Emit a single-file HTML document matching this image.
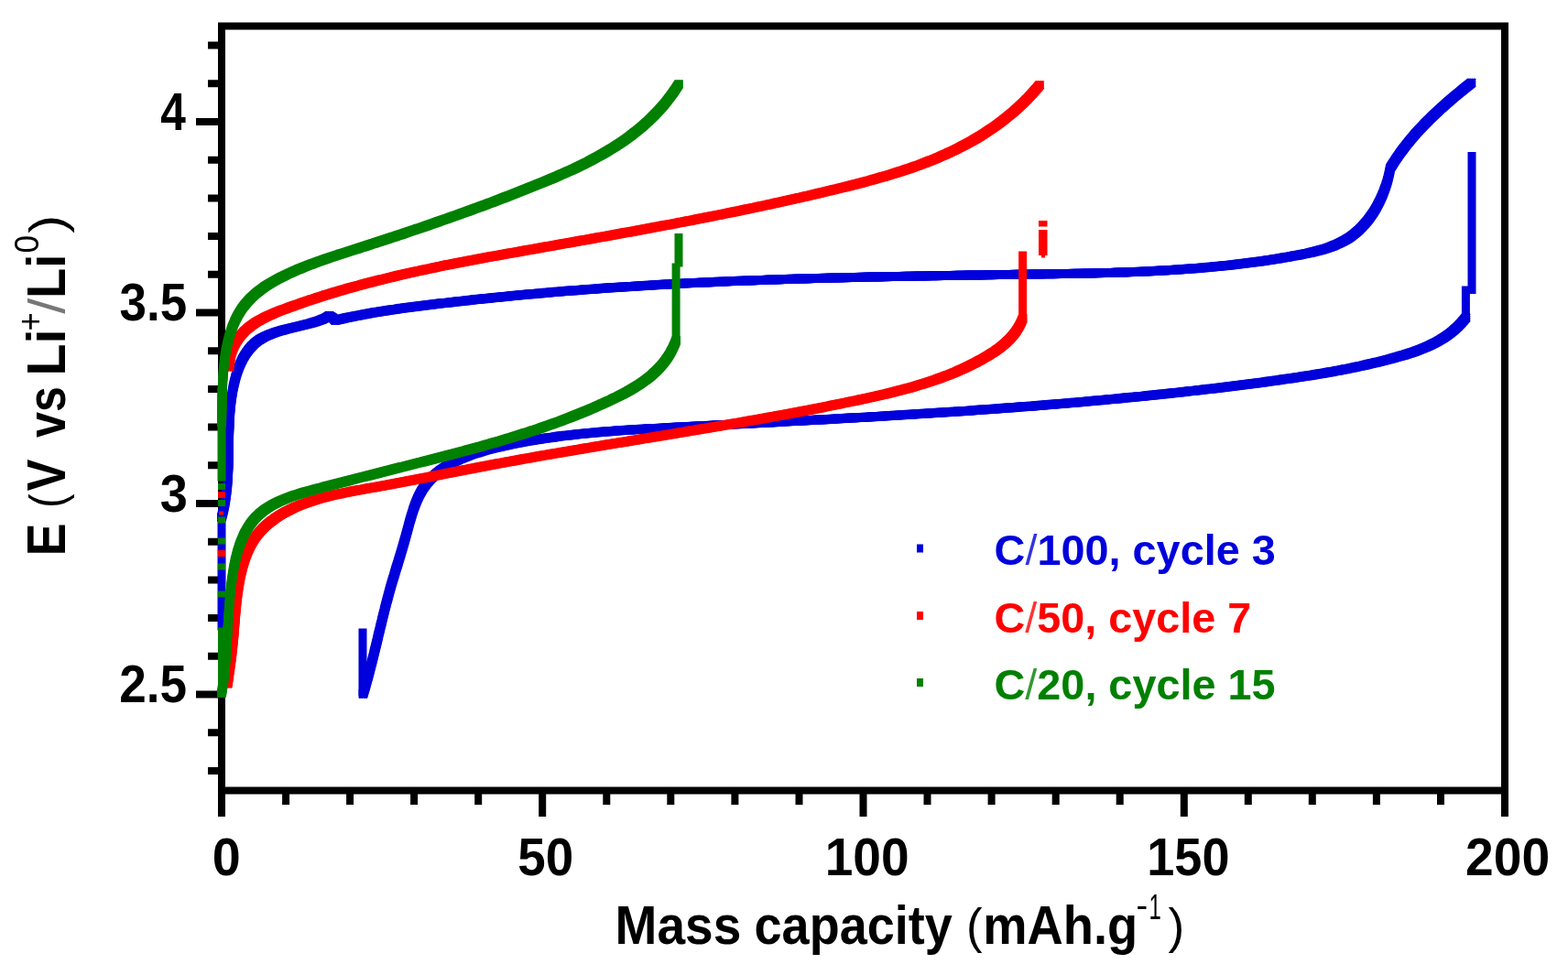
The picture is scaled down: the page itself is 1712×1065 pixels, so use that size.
<!DOCTYPE html><html><head><meta charset="utf-8"><style>html,body{margin:0;padding:0;background:#fff;}svg{display:block;}text{font-family:"Liberation Sans",Arial,Helvetica,sans-serif;font-kerning:none;}</style></head><body>
<svg width="1712" height="1065" viewBox="0 0 1712 1065">
<rect width="1712" height="1065" fill="#fff"/>
<path d="M227 841.9H240M227 800.2H240M214 758.5H240M227 716.8H240M227 675.1H240M227 633.4H240M227 591.7H240M214 550.0H240M227 508.3H240M227 466.6H240M227 424.9H240M227 383.2H240M214 341.5H240M227 299.8H240M227 258.1H240M227 216.4H240M227 174.7H240M214 133.0H240M227 91.3H240M227 49.6H240M242.0 860V892M312.1 860V879M382.1 860V879M452.1 860V879M522.2 860V879M592.2 860V892M662.3 860V879M732.3 860V879M802.4 860V879M872.5 860V879M942.5 860V892M1012.5 860V879M1082.6 860V879M1152.7 860V879M1222.7 860V879M1292.8 860V892M1362.8 860V879M1432.8 860V879M1502.9 860V879M1573.0 860V879M1643.0 860V892" stroke="#000" stroke-width="8" fill="none"/>
<rect x="242" y="28.5" width="1401" height="835" fill="none" stroke="#000" stroke-width="8"/>
<defs>
<path id="cb" d="M242.0 565.0 243.0 561.1 244.0 557.2 244.8 553.3 245.6 549.4 246.2 545.5 246.8 541.5 247.3 537.6 247.8 533.6 248.2 529.6 248.5 525.6 248.8 521.6 249.0 517.6 249.2 513.6 249.4 509.5 249.5 505.5 249.6 501.5 249.7 497.4 249.7 493.4 249.8 489.3 249.9 485.3 249.9 481.2 250.0 477.2 250.1 473.2 250.2 469.1 250.4 465.1 250.5 461.0 250.7 457.0 251.0 453.0 251.3 449.0 251.6 445.0 252.0 441.0 252.5 437.0 253.0 433.0 253.7 429.1 254.3 425.1 255.1 421.2 256.0 417.3 257.0 413.4 258.0 409.5 259.2 405.7 260.6 402.0 262.0 398.3 263.6 394.8 265.4 391.3 267.3 388.0 269.4 384.8 271.6 381.8 274.1 378.9 276.8 376.2 279.6 373.7 282.7 371.4 286.1 369.4 289.6 367.5 293.3 365.8 297.1 364.3 301.1 362.9 305.2 361.6 309.3 360.5 313.5 359.4 317.6 358.4 321.8 357.4 325.9 356.4 330.0 355.4 334.0 354.4 338.0 353.4 341.8 352.3 345.6 351.1 349.2 349.9 352.7 348.5 356.0 347.0 M356.0 347.0 359.5 344.8 363.3 347.0 366.0 350.0 M366.0 350.0 369.9 349.1 373.8 348.2 377.7 347.3 381.5 346.5 385.5 345.7 389.4 344.9 393.3 344.2 397.2 343.4 401.1 342.7 405.0 342.0 409.0 341.3 412.9 340.7 416.9 340.0 420.8 339.4 424.8 338.8 428.7 338.2 432.7 337.7 436.6 337.1 440.6 336.6 444.6 336.0 448.5 335.5 452.5 335.0 456.5 334.5 460.4 334.0 464.4 333.5 468.4 333.0 472.4 332.5 476.3 332.1 480.3 331.6 484.3 331.1 488.3 330.7 492.2 330.2 496.2 329.8 500.2 329.3 504.2 328.9 508.2 328.4 512.1 328.0 516.1 327.6 520.1 327.1 524.1 326.7 528.1 326.3 532.0 325.9 536.0 325.5 540.0 325.1 544.0 324.7 548.0 324.3 552.0 323.9 556.0 323.5 559.9 323.1 563.9 322.7 567.9 322.3 571.9 322.0 575.9 321.6 579.9 321.2 583.9 320.9 587.9 320.5 591.8 320.2 595.8 319.8 599.8 319.5 603.8 319.1 607.8 318.8 611.8 318.5 615.8 318.1 619.8 317.8 623.8 317.5 627.8 317.2 631.8 316.9 635.8 316.6 639.7 316.2 643.7 316.0 647.7 315.7 651.7 315.4 655.7 315.1 659.7 314.8 663.7 314.5 667.7 314.2 671.7 314.0 675.7 313.7 679.7 313.4 683.7 313.2 687.7 312.9 691.7 312.7 695.7 312.4 699.7 312.2 703.7 311.9 707.7 311.7 711.7 311.5 715.7 311.2 719.7 311.0 723.7 310.8 727.7 310.6 731.7 310.4 735.7 310.1 739.7 309.9 743.7 309.7 747.7 309.5 751.7 309.3 755.7 309.1 759.7 308.9 763.7 308.7 767.7 308.5 771.7 308.4 775.7 308.2 779.7 308.0 783.7 307.8 787.7 307.7 791.7 307.5 795.7 307.3 799.7 307.1 803.7 307.0 807.7 306.8 811.7 306.7 815.7 306.5 819.7 306.4 823.7 306.2 827.7 306.1 831.7 305.9 835.7 305.8 839.7 305.6 843.7 305.5 847.7 305.4 851.7 305.2 855.7 305.1 859.7 305.0 863.7 304.8 867.7 304.7 871.7 304.6 875.7 304.5 879.8 304.4 883.8 304.2 887.8 304.1 891.8 304.0 895.8 303.9 899.8 303.8 903.8 303.7 907.8 303.6 911.8 303.5 915.8 303.4 919.8 303.3 923.8 303.2 927.8 303.1 931.8 303.0 935.8 302.9 939.8 302.8 943.8 302.7 947.8 302.6 951.8 302.5 955.9 302.4 959.9 302.4 963.9 302.3 967.9 302.2 971.9 302.1 975.9 302.0 979.9 302.0 983.9 301.9 987.9 301.8 991.9 301.7 995.9 301.7 999.9 301.6 1003.9 301.5 1007.9 301.4 1011.9 301.4 1015.9 301.3 1019.9 301.2 1023.9 301.2 1028.0 301.1 1032.0 301.0 1036.0 301.0 1040.0 300.9 1044.0 300.8 1048.0 300.8 1052.0 300.7 1056.0 300.6 1060.0 300.6 1064.0 300.5 1068.0 300.4 1072.0 300.4 1076.0 300.3 1080.0 300.3 1084.0 300.2 1088.0 300.1 1092.0 300.1 1096.0 300.0 1100.0 300.0 1104.0 299.9 1108.0 299.8 1112.1 299.8 1116.1 299.7 1120.1 299.7 1124.1 299.6 1128.1 299.5 1132.1 299.5 1136.1 299.4 1140.1 299.3 1144.1 299.3 1148.1 299.2 1152.1 299.2 1156.1 299.1 1160.1 299.0 1164.1 299.0 1168.1 298.9 1172.1 298.8 1176.1 298.7 1180.1 298.7 1184.1 298.6 1188.1 298.5 1192.1 298.4 1196.1 298.3 1200.1 298.2 1204.1 298.1 1208.1 298.0 1212.1 297.9 1216.1 297.8 1220.1 297.6 1224.1 297.5 1228.1 297.4 1232.1 297.2 1236.1 297.1 1240.1 296.9 1244.1 296.7 1248.1 296.6 1252.1 296.4 1256.1 296.2 1260.1 296.0 1264.1 295.8 1268.1 295.6 1272.1 295.4 1276.1 295.1 1280.1 294.9 1284.1 294.6 1288.1 294.4 1292.1 294.1 1296.1 293.8 1300.0 293.5 1304.0 293.2 1308.0 292.9 1312.0 292.5 1316.0 292.2 1320.0 291.8 1324.0 291.5 1328.0 291.1 1332.0 290.7 1336.0 290.3 1340.0 289.9 1344.0 289.4 1348.0 289.0 1352.0 288.5 1355.9 288.1 1359.9 287.6 1363.9 287.0 1367.9 286.5 1371.9 286.0 1375.9 285.4 1379.9 284.9 1383.9 284.3 1387.9 283.7 1391.8 283.0 1395.8 282.4 1399.8 281.7 1403.8 281.1 1407.8 280.4 1411.8 279.6 1415.8 278.9 1419.7 278.2 1423.7 277.4 1427.7 276.6 1431.6 275.7 1435.5 274.8 1439.4 273.8 1443.3 272.7 1447.1 271.6 1450.8 270.3 1454.5 269.0 1458.1 267.5 1461.7 265.9 1465.2 264.2 1468.6 262.4 1471.9 260.4 1475.1 258.2 1478.2 255.9 1481.2 253.4 1484.1 250.8 1486.9 248.0 1489.6 245.1 1492.2 242.1 1494.6 239.0 1497.0 235.7 1499.3 232.4 1501.4 228.9 1503.4 225.4 1505.3 221.8 1507.1 218.1 1508.8 214.4 1510.4 210.6 1511.8 206.8 1513.2 202.9 1514.4 199.1 1515.5 195.2 1516.4 191.3 1517.3 187.4 1518.0 183.5 M1518.0 183.5 1520.1 180.1 1522.3 176.7 1524.5 173.3 1526.8 170.0 1529.1 166.7 1531.5 163.5 1533.9 160.3 1536.4 157.1 1539.0 154.0 1541.5 150.9 1544.2 147.8 1546.8 144.8 1549.6 141.8 1552.3 138.9 1555.1 135.9 1557.9 133.1 1560.8 130.2 1563.7 127.4 1566.6 124.6 1569.6 121.8 1572.6 119.0 1575.6 116.3 1578.6 113.6 1581.6 111.0 1584.7 108.3 1587.8 105.7 1590.9 103.1 1594.0 100.6 1597.1 98.0 1600.2 95.5 1603.4 93.0 1606.5 90.5 M1600.4 347.0 1597.7 350.2 1595.0 353.3 1592.1 356.3 1589.2 359.0 1586.2 361.6 1583.1 364.1 1579.9 366.5 1576.6 368.7 1573.3 370.8 1569.9 372.8 1566.4 374.7 1562.9 376.4 1559.3 378.1 1555.7 379.7 1552.0 381.2 1548.3 382.6 1544.6 384.0 1540.8 385.3 1537.0 386.5 1533.2 387.7 1529.3 388.8 1525.5 389.9 1521.6 391.0 1517.7 392.1 1513.9 393.1 1510.0 394.1 1506.1 395.1 1502.2 396.0 1498.3 396.9 1494.4 397.8 1490.5 398.7 1486.6 399.6 1482.7 400.4 1478.8 401.3 1474.8 402.1 1470.9 402.9 1467.0 403.6 1463.1 404.4 1459.1 405.1 1455.2 405.9 1451.2 406.6 1447.3 407.3 1443.3 407.9 1439.4 408.6 1435.4 409.3 1431.5 409.9 1427.5 410.5 1423.6 411.1 1419.6 411.8 1415.6 412.3 1411.7 412.9 1407.7 413.5 1403.7 414.1 1399.8 414.6 1395.8 415.2 1391.8 415.7 1387.9 416.3 1383.9 416.8 1379.9 417.4 1375.9 417.9 1372.0 418.4 1368.0 418.9 1364.0 419.4 1360.0 420.0 1356.1 420.5 1352.1 421.0 1348.1 421.5 1344.1 422.0 1340.2 422.4 1336.2 422.9 1332.2 423.4 1328.2 423.9 1324.2 424.4 1320.3 424.8 1316.3 425.3 1312.3 425.8 1308.3 426.2 1304.3 426.7 1300.3 427.1 1296.4 427.6 1292.4 428.0 1288.4 428.5 1284.4 428.9 1280.4 429.3 1276.4 429.7 1272.5 430.2 1268.5 430.6 1264.5 431.0 1260.5 431.4 1256.5 431.8 1252.5 432.2 1248.5 432.7 1244.5 433.1 1240.6 433.5 1236.6 433.8 1232.6 434.2 1228.6 434.6 1224.6 435.0 1220.6 435.4 1216.6 435.8 1212.6 436.1 1208.6 436.5 1204.6 436.9 1200.7 437.3 1196.7 437.6 1192.7 438.0 1188.7 438.3 1184.7 438.7 1180.7 439.0 1176.7 439.4 1172.7 439.7 1168.7 440.1 1164.7 440.4 1160.7 440.8 1156.7 441.1 1152.7 441.4 1148.7 441.7 1144.7 442.1 1140.7 442.4 1136.7 442.7 1132.8 443.0 1128.8 443.4 1124.8 443.7 1120.8 444.0 1116.8 444.3 1112.8 444.6 1108.8 444.9 1104.8 445.2 1100.8 445.5 1096.8 445.8 1092.8 446.1 1088.8 446.4 1084.8 446.7 1080.8 447.0 1076.8 447.3 1072.8 447.5 1068.8 447.8 1064.8 448.1 1060.8 448.4 1056.8 448.7 1052.8 448.9 1048.8 449.2 1044.8 449.5 1040.8 449.7 1036.8 450.0 1032.8 450.3 1028.8 450.5 1024.8 450.8 1020.8 451.1 1016.8 451.3 1012.8 451.6 1008.8 451.8 1004.8 452.1 1000.8 452.3 996.8 452.6 992.8 452.8 988.8 453.1 984.8 453.3 980.8 453.6 976.8 453.8 972.8 454.0 968.8 454.3 964.8 454.5 960.8 454.8 956.7 455.0 952.7 455.2 948.7 455.5 944.7 455.7 940.7 455.9 936.7 456.1 932.7 456.4 928.7 456.6 924.7 456.8 920.7 457.1 916.7 457.3 912.7 457.5 908.7 457.7 904.7 457.9 900.7 458.2 896.7 458.4 892.7 458.6 888.7 458.8 884.7 459.0 880.7 459.3 876.7 459.5 872.7 459.7 868.7 459.9 864.7 460.1 860.7 460.3 856.7 460.5 852.7 460.8 848.7 461.0 844.7 461.2 840.7 461.4 836.7 461.6 832.7 461.8 828.7 462.0 824.7 462.2 820.7 462.4 816.7 462.7 812.7 462.9 808.7 463.1 804.7 463.3 800.7 463.5 796.7 463.7 792.7 463.9 788.7 464.1 784.7 464.3 780.7 464.5 776.7 464.7 772.7 465.0 768.7 465.2 764.7 465.4 760.7 465.6 756.7 465.8 752.7 466.0 748.7 466.2 744.7 466.4 740.7 466.6 736.7 466.8 732.7 467.1 728.7 467.3 724.7 467.5 720.7 467.7 716.7 467.9 712.7 468.1 708.7 468.3 704.7 468.6 700.7 468.8 696.7 469.0 692.8 469.3 688.8 469.5 684.8 469.8 680.8 470.1 676.8 470.3 672.8 470.6 668.8 470.9 664.8 471.2 660.8 471.5 656.8 471.8 652.9 472.2 648.9 472.5 644.9 472.9 640.9 473.3 636.9 473.7 632.9 474.1 628.9 474.5 625.0 474.9 621.0 475.4 617.0 475.8 613.0 476.3 609.0 476.8 605.1 477.4 601.1 477.9 597.1 478.5 593.2 479.1 589.2 479.7 585.2 480.3 581.2 481.0 577.3 481.6 573.3 482.3 569.3 483.1 565.4 483.8 561.4 484.6 557.5 485.4 553.5 486.2 549.5 487.1 545.6 488.0 541.6 488.9 537.7 489.9 533.7 490.9 529.8 491.9 525.9 493.0 522.1 494.2 518.2 495.4 514.4 496.7 510.7 498.0 506.9 499.5 503.3 501.0 499.7 502.7 496.1 504.4 492.7 506.2 489.2 508.2 485.9 510.3 482.7 512.4 479.5 514.8 476.5 517.2 473.6 519.8 470.8 522.5 468.1 525.4 465.6 528.3 463.3 531.5 461.2 534.7 459.3 538.1 457.4 541.6 455.8 545.2 454.2 548.9 452.8 552.6 451.4 556.5 450.2 560.4 449.0 564.3 447.8 568.2 446.7 572.2 445.7 576.2 444.6 580.2 443.5 584.1 442.4 588.1 441.3 592.0 440.2 595.9 439.1 599.7 437.9 603.6 436.8 607.4 435.6 611.2 434.5 615.0 433.3 618.8 432.1 622.5 431.0 626.3 429.9 630.1 428.7 633.9 427.6 637.7 426.5 641.5 425.4 645.3 424.4 649.2 423.4 653.0 422.3 656.9 421.3 660.8 420.3 664.6 419.4 668.5 418.4 672.4 417.4 676.3 416.5 680.3 415.5 684.2 414.6 688.1 413.6 692.0 412.7 695.9 411.8 699.9 410.8 703.8 409.9 707.7 408.9 711.6 408.0 715.5 407.0 719.4 406.0 723.3 405.0 727.2 404.0 731.1 403.0 735.0 402.0 738.9 400.9 742.7 399.8 746.6 398.8 750.4 397.6 754.2 396.5 758.0"/>
<path id="cr" d="M250.5 401.0 250.8 396.3 251.4 391.9 252.2 387.7 253.3 383.8 254.7 380.0 256.3 376.5 258.1 373.1 260.1 370.0 262.3 367.0 264.8 364.2 267.3 361.5 270.1 359.0 273.0 356.7 276.1 354.4 279.2 352.3 282.5 350.3 285.9 348.5 289.4 346.7 293.0 344.9 296.6 343.3 300.3 341.7 304.1 340.2 307.9 338.7 311.7 337.3 315.5 335.9 319.3 334.5 323.2 333.1 327.0 331.8 330.8 330.4 334.7 329.1 338.5 327.8 342.4 326.6 346.2 325.3 350.0 324.1 353.9 322.8 357.8 321.6 361.6 320.5 365.5 319.3 369.3 318.1 373.2 317.0 377.1 315.9 380.9 314.8 384.8 313.7 388.7 312.6 392.6 311.6 396.5 310.5 400.3 309.5 404.2 308.5 408.1 307.5 412.0 306.5 415.9 305.5 419.8 304.6 423.7 303.6 427.6 302.7 431.5 301.7 435.4 300.8 439.3 299.9 443.2 299.0 447.1 298.1 451.0 297.3 454.9 296.4 458.8 295.6 462.7 294.7 466.7 293.9 470.6 293.1 474.5 292.2 478.4 291.4 482.3 290.6 486.2 289.8 490.2 289.1 494.1 288.3 498.0 287.5 501.9 286.8 505.9 286.0 509.8 285.2 513.7 284.5 517.7 283.8 521.6 283.0 525.5 282.3 529.4 281.6 533.4 280.8 537.3 280.1 541.2 279.4 545.2 278.7 549.1 278.0 553.1 277.3 557.0 276.6 560.9 275.9 564.9 275.2 568.8 274.5 572.7 273.8 576.7 273.1 580.6 272.4 584.5 271.7 588.5 271.0 592.4 270.3 596.4 269.6 600.3 268.9 604.2 268.2 608.2 267.5 612.1 266.8 616.0 266.1 620.0 265.4 623.9 264.7 627.9 264.0 631.8 263.3 635.7 262.6 639.7 261.9 643.6 261.2 647.5 260.5 651.5 259.8 655.4 259.1 659.4 258.4 663.3 257.7 667.2 257.0 671.2 256.3 675.1 255.5 679.0 254.8 683.0 254.1 686.9 253.4 690.9 252.7 694.8 252.0 698.7 251.2 702.7 250.5 706.6 249.8 710.5 249.0 714.5 248.3 718.4 247.6 722.3 246.8 726.3 246.1 730.2 245.4 734.2 244.6 738.1 243.9 742.0 243.1 746.0 242.4 749.9 241.6 753.8 240.9 757.8 240.1 761.7 239.3 765.6 238.6 769.6 237.8 773.5 237.0 777.4 236.2 781.4 235.4 785.3 234.7 789.2 233.9 793.1 233.1 797.1 232.3 801.0 231.5 804.9 230.7 808.9 229.9 812.8 229.0 816.7 228.2 820.7 227.4 824.6 226.6 828.5 225.7 832.4 224.9 836.4 224.1 840.3 223.2 844.2 222.4 848.1 221.5 852.1 220.6 856.0 219.8 859.9 218.9 863.8 218.0 867.8 217.1 871.7 216.2 875.6 215.4 879.5 214.5 883.4 213.6 887.4 212.6 891.3 211.7 895.2 210.8 899.1 209.9 903.0 208.9 907.0 208.0 910.9 207.0 914.8 206.1 918.7 205.1 922.6 204.2 926.5 203.2 930.4 202.2 934.3 201.2 938.3 200.2 942.1 199.2 946.0 198.1 949.9 197.1 953.8 196.0 957.7 194.9 961.5 193.8 965.4 192.7 969.2 191.6 973.1 190.4 976.9 189.2 980.7 188.0 984.5 186.8 988.3 185.5 992.1 184.3 995.9 183.0 999.6 181.6 1003.4 180.3 1007.1 178.9 1010.8 177.5 1014.5 176.0 1018.2 174.6 1021.9 173.1 1025.5 171.5 1029.1 169.9 1032.7 168.3 1036.3 166.7 1039.9 165.0 1043.4 163.3 1047.0 161.5 1050.5 159.7 1054.0 157.9 1057.4 156.0 1060.9 154.1 1064.3 152.1 1067.7 150.1 1071.1 148.1 1074.4 146.0 1077.7 143.8 1081.0 141.6 1084.3 139.4 1087.5 137.1 1090.7 134.8 1093.9 132.4 1097.0 129.9 1100.1 127.4 1103.2 124.9 1106.3 122.3 1109.3 119.6 1112.3 116.9 1115.3 114.1 1118.2 111.3 1121.1 108.4 1123.9 105.4 1126.8 102.4 1129.5 99.3 1132.3 96.2 1135.0 93.0 M1116.6 348.0 1115.0 351.9 1113.2 355.5 1111.2 359.0 1109.0 362.3 1106.6 365.5 1104.0 368.5 1101.3 371.4 1098.4 374.1 1095.5 376.7 1092.4 379.2 1089.2 381.6 1085.9 383.9 1082.5 386.1 1079.1 388.2 1075.6 390.3 1072.2 392.3 1068.6 394.2 1065.1 396.1 1061.5 397.9 1058.0 399.7 1054.4 401.4 1050.7 403.1 1047.1 404.7 1043.5 406.3 1039.8 407.8 1036.1 409.3 1032.4 410.7 1028.7 412.1 1024.9 413.5 1021.2 414.8 1017.4 416.1 1013.6 417.4 1009.9 418.6 1006.1 419.8 1002.2 420.9 998.4 422.1 994.6 423.2 990.7 424.2 986.9 425.3 983.0 426.3 979.1 427.3 975.3 428.3 971.4 429.2 967.5 430.2 963.6 431.1 959.7 432.0 955.8 432.9 951.9 433.8 947.9 434.6 944.0 435.5 940.1 436.3 936.2 437.2 932.2 438.0 928.3 438.8 924.4 439.6 920.4 440.4 916.5 441.2 912.6 442.0 908.6 442.8 904.7 443.6 900.8 444.4 896.8 445.2 892.9 445.9 888.9 446.7 885.0 447.5 881.1 448.2 877.1 449.0 873.2 449.7 869.2 450.5 865.3 451.2 861.3 452.0 857.4 452.7 853.4 453.4 849.5 454.1 845.5 454.9 841.6 455.6 837.6 456.3 833.7 457.0 829.7 457.7 825.8 458.4 821.8 459.1 817.9 459.8 813.9 460.5 809.9 461.2 806.0 461.9 802.0 462.6 798.1 463.3 794.1 463.9 790.2 464.6 786.2 465.3 782.2 466.0 778.3 466.6 774.3 467.3 770.4 468.0 766.4 468.6 762.5 469.3 758.5 470.0 754.5 470.6 750.6 471.3 746.6 471.9 742.7 472.6 738.7 473.3 734.8 473.9 730.8 474.6 726.8 475.2 722.9 475.9 718.9 476.5 715.0 477.2 711.0 477.8 707.1 478.5 703.1 479.1 699.2 479.8 695.2 480.4 691.2 481.1 687.3 481.7 683.3 482.4 679.4 483.0 675.4 483.7 671.5 484.3 667.5 485.0 663.6 485.6 659.6 486.3 655.7 486.9 651.7 487.6 647.8 488.3 643.9 488.9 639.9 489.6 636.0 490.2 632.0 490.9 628.1 491.6 624.1 492.2 620.2 492.9 616.3 493.6 612.3 494.2 608.4 494.9 604.5 495.6 600.5 496.3 596.6 497.0 592.7 497.6 588.7 498.3 584.8 499.0 580.9 499.7 576.9 500.4 573.0 501.1 569.1 501.8 565.2 502.5 561.3 503.2 557.3 503.9 553.4 504.6 549.5 505.4 545.6 506.1 541.7 506.8 537.8 507.5 533.9 508.3 530.0 509.0 526.0 509.8 522.1 510.5 518.2 511.3 514.3 512.0 510.4 512.8 506.5 513.5 502.6 514.3 498.7 515.0 494.8 515.8 490.9 516.6 487.0 517.3 483.1 518.1 479.2 518.9 475.3 519.6 471.3 520.4 467.4 521.2 463.5 521.9 459.6 522.7 455.6 523.5 451.7 524.2 447.7 525.0 443.8 525.7 439.8 526.5 435.9 527.2 431.9 528.0 427.9 528.7 423.9 529.5 419.9 530.2 415.9 530.9 411.9 531.7 407.9 532.4 403.9 533.1 399.9 533.8 395.8 534.6 391.8 535.3 387.8 536.0 383.7 536.8 379.7 537.6 375.7 538.4 371.7 539.2 367.7 540.0 363.8 540.9 359.8 541.9 355.9 542.8 352.0 543.9 348.1 544.9 344.3 546.1 340.5 547.3 336.7 548.5 333.0 549.8 329.3 551.2 325.6 552.7 322.0 554.2 318.5 555.9 315.0 557.6 311.5 559.4 308.1 561.3 304.8 563.3 301.5 565.4 298.4 567.7 295.3 570.0 292.3 572.4 289.4 575.0 286.6 577.7 284.0 580.5 281.5 583.4 279.2 586.5 277.1 589.7 275.1 593.0 273.3 596.4 271.6 600.0 270.1 603.6 268.6 607.3 267.4 611.0 266.2 614.8 265.1 618.7 264.1 622.6 263.2 626.5 262.3 630.5 261.6 634.5 260.9 638.5 260.3 642.5 259.7 646.6 259.2 650.7 258.7 654.8 258.3 658.9 257.9 663.0 257.5 667.1 257.1 671.2 256.8 675.3 256.5 679.4 256.1 683.5 255.8 687.6 255.5 691.6 255.1 695.7 254.7 699.7 254.3 703.7 253.9 707.7 253.4 711.6 253.0 715.6 252.5 719.5 252.0 723.4 251.4 727.3 250.9 731.2 250.3 735.1 249.8 739.0 249.2 742.9 248.7 746.8"/>
<path id="cg" d="M242.0 462.0 242.1 458.3 242.1 454.5 242.2 450.6 242.3 446.7 242.3 442.7 242.4 438.7 242.5 434.7 242.6 430.6 242.7 426.5 242.9 422.4 243.1 418.2 243.3 414.1 243.6 409.9 243.9 405.8 244.3 401.6 244.7 397.5 245.2 393.3 245.8 389.2 246.4 385.1 247.2 381.1 248.0 377.1 248.9 373.1 249.9 369.2 251.0 365.4 252.2 361.6 253.5 357.9 255.0 354.2 256.5 350.7 258.2 347.2 260.0 343.8 262.0 340.5 264.0 337.3 266.3 334.2 268.7 331.2 271.2 328.4 273.9 325.6 276.7 323.0 279.6 320.4 282.6 318.0 285.8 315.6 289.0 313.3 292.4 311.1 295.8 309.0 299.3 307.0 302.8 305.0 306.4 303.1 310.1 301.3 313.7 299.5 317.5 297.8 321.2 296.2 324.9 294.5 328.7 293.0 332.5 291.4 336.3 289.9 340.1 288.5 343.9 287.1 347.7 285.7 351.5 284.3 355.3 283.0 359.2 281.7 363.0 280.4 366.9 279.1 370.7 277.8 374.6 276.6 378.4 275.4 382.2 274.1 386.1 272.9 389.9 271.7 393.8 270.4 397.6 269.2 401.4 268.0 405.3 266.7 409.1 265.5 412.9 264.2 416.7 263.0 420.5 261.8 424.4 260.5 428.2 259.2 432.0 258.0 435.8 256.7 439.6 255.5 443.4 254.2 447.2 252.9 450.9 251.6 454.7 250.3 458.5 249.1 462.3 247.8 466.1 246.5 469.9 245.2 473.6 243.9 477.4 242.5 481.2 241.2 484.9 239.9 488.7 238.6 492.5 237.2 496.2 235.9 500.0 234.6 503.8 233.2 507.5 231.8 511.3 230.5 515.0 229.1 518.8 227.7 522.6 226.3 526.3 225.0 530.1 223.6 533.8 222.2 537.6 220.8 541.3 219.3 545.1 217.9 548.8 216.5 552.6 215.0 556.3 213.6 560.1 212.1 563.8 210.7 567.6 209.2 571.3 207.7 575.1 206.2 578.8 204.7 582.6 203.2 586.3 201.7 590.1 200.2 593.8 198.7 597.5 197.1 601.3 195.5 605.0 194.0 608.7 192.4 612.4 190.7 616.1 189.1 619.8 187.4 623.5 185.8 627.2 184.1 630.8 182.3 634.4 180.6 638.1 178.8 641.7 177.0 645.2 175.1 648.8 173.2 652.3 171.3 655.8 169.4 659.3 167.4 662.7 165.4 666.1 163.3 669.5 161.2 672.9 159.1 676.2 156.9 679.5 154.7 682.8 152.4 686.0 150.1 689.2 147.7 692.3 145.3 695.4 142.9 698.5 140.3 701.5 137.8 704.5 135.2 707.5 132.5 710.3 129.7 713.2 126.9 716.0 124.1 718.7 121.2 721.4 118.2 724.1 115.2 726.7 112.1 729.2 108.9 731.7 105.7 734.1 102.3 736.5 99.0 738.8 95.5 741.0 92.0 M738.1 372.0 736.6 375.9 734.9 379.7 733.1 383.3 731.2 386.8 729.1 390.1 726.8 393.3 724.5 396.4 722.0 399.4 719.4 402.3 716.6 405.1 713.8 407.7 710.9 410.3 707.9 412.8 704.8 415.1 701.6 417.4 698.3 419.7 695.0 421.8 691.6 423.9 688.2 425.9 684.7 427.9 681.1 429.8 677.5 431.6 673.9 433.5 670.3 435.2 666.7 437.0 663.0 438.7 659.3 440.4 655.6 442.0 651.9 443.7 648.2 445.3 644.5 446.9 640.8 448.5 637.1 450.0 633.4 451.5 629.6 453.0 625.9 454.5 622.2 456.0 618.4 457.4 614.6 458.8 610.9 460.3 607.1 461.6 603.3 463.0 599.5 464.3 595.7 465.7 592.0 467.0 588.2 468.3 584.4 469.6 580.5 470.8 576.7 472.1 572.9 473.3 569.1 474.5 565.3 475.7 561.4 476.9 557.6 478.1 553.8 479.3 549.9 480.4 546.1 481.6 542.3 482.7 538.4 483.8 534.6 484.9 530.7 486.0 526.9 487.1 523.0 488.2 519.2 489.2 515.3 490.3 511.4 491.3 507.6 492.4 503.7 493.4 499.9 494.4 496.0 495.5 492.1 496.5 488.3 497.5 484.4 498.5 480.6 499.5 476.7 500.5 472.9 501.5 469.0 502.5 465.1 503.5 461.3 504.5 457.4 505.4 453.6 506.4 449.7 507.4 445.9 508.4 442.0 509.4 438.1 510.3 434.3 511.3 430.4 512.3 426.6 513.3 422.7 514.2 418.8 515.2 414.9 516.2 411.1 517.2 407.2 518.2 403.3 519.2 399.4 520.2 395.5 521.1 391.6 522.1 387.7 523.1 383.8 524.1 379.8 525.2 375.9 526.2 372.0 527.2 368.0 528.2 364.0 529.2 360.1 530.3 356.1 531.3 352.1 532.4 348.1 533.4 344.1 534.5 340.1 535.6 336.1 536.7 332.1 537.8 328.2 539.0 324.3 540.3 320.4 541.5 316.6 542.9 312.8 544.3 309.2 545.8 305.6 547.4 302.0 549.1 298.6 550.8 295.3 552.7 292.1 554.7 289.0 556.8 286.0 559.1 283.2 561.5 280.5 564.0 278.0 566.6 275.6 569.5 273.4 572.4 271.3 575.5 269.4 578.7 267.5 582.0 265.8 585.5 264.3 589.0 262.8 592.6 261.4 596.3 260.2 600.1 259.0 604.0 258.0 607.9 257.0 611.9 256.1 616.0 255.3 620.0 254.6 624.1 253.9 628.3 253.3 632.4 252.7 636.6 252.2 640.8 251.8 645.0 251.3 649.1 251.0 653.3 250.6 657.4 250.3 661.5 250.0 665.6 249.7 669.6 249.4 673.7 249.2 677.7 248.9 681.8 248.7 685.8 248.5 689.8 248.3 693.8 248.0 697.8 247.8 701.7 247.6 705.7 247.3 709.7 247.0 713.6 246.7 717.6 246.4 721.5 246.1 725.5 245.7 729.4 245.3 733.3 244.9 737.3 244.4 741.2 243.9 745.2 243.3 749.1 242.7 753.0 242.0 757.0"/>
</defs>
<g fill="none" stroke="#0000dc" stroke-width="3.0" stroke-linejoin="round" stroke-linecap="round">
<use href="#cb" x="-3.50" y="-3.50"/>
<use href="#cb" x="-3.50" y="-1.17"/>
<use href="#cb" x="-3.50" y="1.17"/>
<use href="#cb" x="-3.50" y="3.50"/>
<use href="#cb" x="-1.17" y="-3.50"/>
<use href="#cb" x="-1.17" y="3.50"/>
<use href="#cb" x="1.17" y="-3.50"/>
<use href="#cb" x="1.17" y="3.50"/>
<use href="#cb" x="3.50" y="-3.50"/>
<use href="#cb" x="3.50" y="-1.17"/>
<use href="#cb" x="3.50" y="1.17"/>
<use href="#cb" x="3.50" y="3.50"/>
</g>
<path d="M237.5 560.5h9.0V688.5h-9.0zM1602.5 166.0h9.0V321.0h-9.0zM1595.9 312.5h9.0V351.5h-9.0zM391.5 686.5h9.0V760.5h-9.0z" fill="#0000dc"/>
<g fill="none" stroke="#ff0000" stroke-width="3.0" stroke-linejoin="round" stroke-linecap="round">
<use href="#cr" x="-3.50" y="-3.50"/>
<use href="#cr" x="-3.50" y="-1.17"/>
<use href="#cr" x="-3.50" y="1.17"/>
<use href="#cr" x="-3.50" y="3.50"/>
<use href="#cr" x="-1.17" y="-3.50"/>
<use href="#cr" x="-1.17" y="3.50"/>
<use href="#cr" x="1.17" y="-3.50"/>
<use href="#cr" x="1.17" y="3.50"/>
<use href="#cr" x="3.50" y="-3.50"/>
<use href="#cr" x="3.50" y="-1.17"/>
<use href="#cr" x="3.50" y="1.17"/>
<use href="#cr" x="3.50" y="3.50"/>
</g>
<path d="M1112.1 274.5h9.0V352.5h-9.0z" fill="#ff0000"/>
<path d="M1134 241h9.5v6.5h-9.5zM1134 251h9.5v28h-9.5zM1137 279h4v2.5h-4z" fill="#ff0000"/>
<path d="M238 537.0h8v7h-8zM238 601.0h8v7h-8zM239 558.5h5v4h-5z" fill="#ff0000"/>
<g fill="none" stroke="#008000" stroke-width="3.0" stroke-linejoin="round" stroke-linecap="round">
<use href="#cg" x="-3.50" y="-3.50"/>
<use href="#cg" x="-3.50" y="-1.17"/>
<use href="#cg" x="-3.50" y="1.17"/>
<use href="#cg" x="-3.50" y="3.50"/>
<use href="#cg" x="-1.17" y="-3.50"/>
<use href="#cg" x="-1.17" y="3.50"/>
<use href="#cg" x="1.17" y="-3.50"/>
<use href="#cg" x="1.17" y="3.50"/>
<use href="#cg" x="3.50" y="-3.50"/>
<use href="#cg" x="3.50" y="-1.17"/>
<use href="#cg" x="3.50" y="1.17"/>
<use href="#cg" x="3.50" y="3.50"/>
</g>
<path d="M238.0 685.5h9.0V761.5h-9.0zM237.5 457.5h9.0V525.5h-9.0zM736.5 255.0h9.0V291.5h-9.0zM733.6 287.5h9.0V376.5h-9.0z" fill="#008000"/>
<path d="M238 528.0h8v7h-8zM238 546.0h8v7h-8zM238 564.5h8v7h-8zM238 587.5h8v7h-8zM238 615.5h8v7h-8zM238 645.5h8v7h-8z" fill="#008000"/>
<text transform="translate(130.16 766.80) scale(0.9399 1)" font-size="56.50" font-weight="bold">2.5</text>
<text transform="translate(174.76 559.40) scale(0.9578 1)" font-size="56.50" font-weight="bold">3</text>
<text transform="translate(130.59 349.50) scale(0.9369 1)" font-size="56.50" font-weight="bold">3.5</text>
<text transform="translate(175.35 142.00) scale(0.8789 1)" font-size="56.50" font-weight="bold">4</text>
<text transform="translate(231.80 956.00) scale(0.9862 1)" font-size="56.50" font-weight="bold">0</text>
<text transform="translate(565.31 956.00) scale(0.9696 1)" font-size="56.50" font-weight="bold">50</text>
<text transform="translate(900.63 956.00) scale(0.9752 1)" font-size="56.50" font-weight="bold">100</text>
<text transform="translate(1252.29 956.00) scale(0.9571 1)" font-size="56.50" font-weight="bold">150</text>
<text transform="translate(1600.08 956.00) scale(0.9779 1)" font-size="56.50" font-weight="bold">200</text>
<text transform="translate(671.62 1031.10) scale(0.9429 1)" font-size="58.40" font-weight="bold">Mass</text>
<text transform="translate(823.59 1031.10) scale(0.9249 1)" font-size="58.40" font-weight="bold">capacity</text>
<text transform="translate(1054.93 1030.00) scale(0.9778 1)" font-size="54.00" font-weight="normal">(</text>
<text transform="translate(1073.32 1031.10) scale(0.9298 1)" font-size="58.40" font-weight="bold">mAh.g</text>
<text transform="translate(1240.61 1002.20) scale(1.0024 1)" font-size="38.00" font-weight="normal">-</text>
<text transform="translate(1254.48 1003.60) scale(0.6287 1)" font-size="38.00" font-weight="normal">1</text>
<text transform="translate(1275.59 1030.00) scale(0.9848 1)" font-size="54.00" font-weight="normal">)</text>
<text transform="translate(70.50 607.19) rotate(-90) scale(0.9187 1)" font-size="58.40" font-weight="bold">E</text>
<text transform="translate(69.50 554.75) rotate(-90) scale(0.8521 1)" font-size="54.00" font-weight="normal">(</text>
<text transform="translate(70.50 536.25) rotate(-90) scale(0.8859 1)" font-size="58.40" font-weight="bold">V</text>
<text transform="translate(70.50 477.90) rotate(-90) scale(0.8599 1)" font-size="58.40" font-weight="bold">vs</text>
<text transform="translate(70.50 410.55) rotate(-90) scale(0.9850 1)" font-size="58.40" font-weight="bold">Li</text>
<text transform="translate(46.40 361.40) rotate(-90) scale(0.8762 1)" font-size="39.70" font-weight="normal">+</text>
<text transform="translate(70.00 342.80) rotate(-90) scale(1.1060 1)" font-size="55.00" font-weight="normal" fill="#777">/</text>
<text transform="translate(70.50 325.70) rotate(-90) scale(0.9212 1)" font-size="58.40" font-weight="bold">Li</text>
<text transform="translate(41.90 276.48) rotate(-90) scale(0.9529 1)" font-size="37.10" font-weight="normal">0</text>
<text transform="translate(69.50 254.75) rotate(-90) scale(1.1105 1)" font-size="54.00" font-weight="normal">)</text>
<rect x="1001" y="594.5" width="7" height="9" fill="#0000dc"/>
<text transform="translate(1085.58 616.60) scale(0.9967 1)" font-size="47.00" font-weight="bold" fill="#0000dc">C<tspan font-weight="normal" fill-opacity="0.8">/</tspan>100, cycle 3</text>
<rect x="1001" y="668" width="7" height="9" fill="#ff0000"/>
<text transform="translate(1085.58 690.60) scale(0.9942 1)" font-size="47.00" font-weight="bold" fill="#ff0000">C<tspan font-weight="normal" fill-opacity="0.8">/</tspan>50, cycle 7</text>
<rect x="1001" y="741" width="7" height="9" fill="#008000"/>
<text transform="translate(1085.58 763.50) scale(0.9954 1)" font-size="47.00" font-weight="bold" fill="#008000">C<tspan font-weight="normal" fill-opacity="0.8">/</tspan>20, cycle 15</text>
</svg></body></html>
